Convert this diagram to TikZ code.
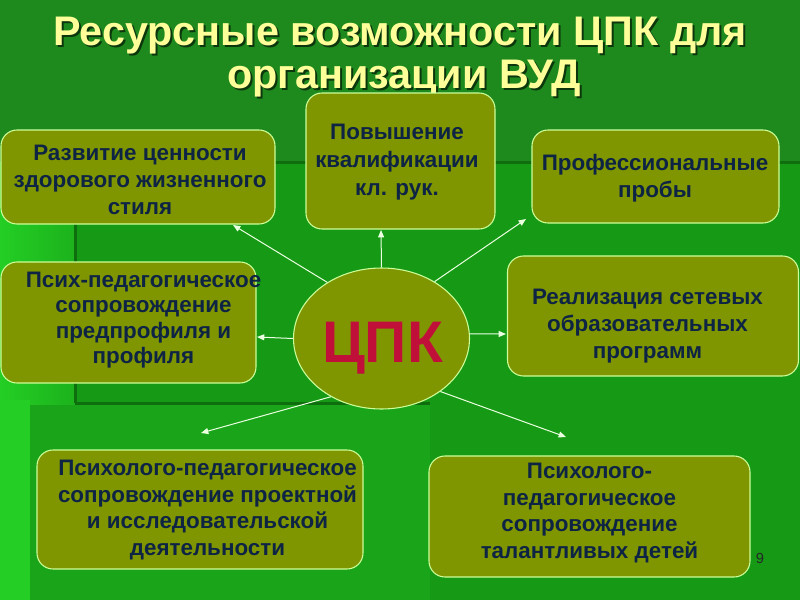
\documentclass[tikz,border=0pt]{standalone}
\usepackage{fontspec}
\setmainfont{Liberation Sans}
\usetikzlibrary{shapes.geometric,arrows.meta}
\definecolor{bgtop}{RGB}{30,138,30}
\definecolor{bgmid}{RGB}{22,154,22}
\definecolor{bglow}{RGB}{26,164,26}
\definecolor{bgleft}{RGB}{28,178,28}
\definecolor{bgbright}{RGB}{36,206,36}
\definecolor{bgshade}{RGB}{14,110,14}
\definecolor{olive}{RGB}{128,150,0}
\definecolor{rim}{RGB}{204,255,153}
\definecolor{navy}{RGB}{14,36,68}
\definecolor{cpk}{RGB}{192,16,58}
\definecolor{titlecol}{RGB}{255,255,153}
\definecolor{arrowcol}{RGB}{235,255,225}
\begin{document}
\begin{tikzpicture}[x=0.75pt,y=-0.75pt,
  box/.style={draw=rim, line width=0.8pt, fill=olive, rounded corners=12pt, inner sep=0pt},
  txt/.style={text=navy, font=\fontsize{16.8}{20}\selectfont\bfseries, align=center, inner sep=0pt},
  ttl/.style={font=\fontsize{31}{34}\selectfont\bfseries, inner sep=0pt, anchor=base},
  arr/.style={draw=arrowcol, line width=0.75pt, -{Triangle[length=5.5pt,width=4.5pt]}}]
\useasboundingbox (0,0) rectangle (800,600);
% background
\fill[bgtop] (0,0) rectangle (800,600);
\fill[bgmid] (75,162) rectangle (800,600);
\shade[left color=bgbright, right color=bgleft] (0,162) rectangle (75,600);
\fill[bglow] (30,405) rectangle (430,600);
\fill[bgbright] (0,400) rectangle (30,600);
\fill[bgshade] (75,160.5) rectangle (800,163.5);
\fill[bgshade] (73.5,162) rectangle (76.5,403);
\fill[bgshade] (75,402) rectangle (430,405);
% title
\node[ttl, text=black, opacity=0.6] (t1s) at (402,47.5) {Ресурсные возможности ЦПК для};
\node[ttl, text=black, opacity=0.6] (t2s) at (406,90.5) {организации ВУД};
\node[ttl, text=titlecol] (t1) at (400,45.5) {Ресурсные возможности ЦПК для};
\node[ttl, text=titlecol] (t2) at (404,88.5) {организации ВУД};
% boxes
\node[box, minimum width=205.5pt, minimum height=70.5pt] (b1) at (138,177) {};
\node[box, minimum width=141.75pt, minimum height=102pt] (b2) at (400.5,161) {};
\node[box, minimum width=185.25pt, minimum height=69.75pt] (b3) at (655.5,176.5) {};
\node[box, minimum width=191.25pt, minimum height=90.75pt] (b4) at (128.5,322.5) {};
\node[box, minimum width=218.25pt, minimum height=90pt] (b5) at (653,316) {};
\node[box, minimum width=244.5pt, minimum height=89.25pt] (b6) at (200,509.5) {};
\node[box, minimum width=240.75pt, minimum height=90.75pt] (b7) at (589.5,516.5) {};
% box texts
\node[txt] (x1) at (140,180) {Развитие ценности\\здорового жизненного\\стиля};
\node[txt, font=\fontsize{16.8}{21}\selectfont\bfseries] (x2) at (397,162) {Повышение\\квалификации\\кл. рук.};
\node[txt] (x3) at (655,178) {Профессиональные\\пробы};
\node[txt, font=\fontsize{16.8}{19}\selectfont\bfseries] (x4) at (143.5,320) {Псих-педагогическое\\сопровождение\\предпрофиля и\\профиля};
\node[txt] (x5) at (647.5,326) {Реализация сетевых\\образовательных\\программ};
\node[txt] (x6) at (207.5,510) {Психолого-педагогическое\\сопровождение проектной\\и исследовательской\\деятельности};
\node[txt] (x7) at (589.5,513) {Психолого-\\педагогическое\\сопровождение\\талантливых детей};
% centre
\node[ellipse, draw=rim, line width=0.8pt, fill=olive, minimum width=132pt, minimum height=105.75pt, inner sep=0pt] (e) at (381.5,338.5) {};
\node[text=cpk, font=\fontsize{44}{48}\selectfont\bfseries, anchor=base, inner sep=0pt] (cpk) at (382.5,362) {ЦПК};
% arrow tips
\coordinate (p1) at (233,225);
\coordinate (p2) at (381,230);
\coordinate (p3) at (526,219);
\coordinate (p4) at (257,337);
\coordinate (p5) at (506,334);
\coordinate (p6) at (201,433);
\coordinate (p7) at (566,437);
\draw[arr] (e.134) -- (p1);
\draw[arr] (e.90) -- (p2);
\draw[arr] (e.47) -- (p3);
\draw[arr] (e.180) -- (p4);
\draw[arr] (e.3) -- (p5);
\draw[arr] (e.229) -- (p6);
\draw[arr] (e.318.5) -- (p7);
% slide number
\node[text=black!85, font=\fontsize{11}{13}\selectfont, inner sep=0pt] (num) at (760,558) {9};
\end{tikzpicture}
\end{document}
